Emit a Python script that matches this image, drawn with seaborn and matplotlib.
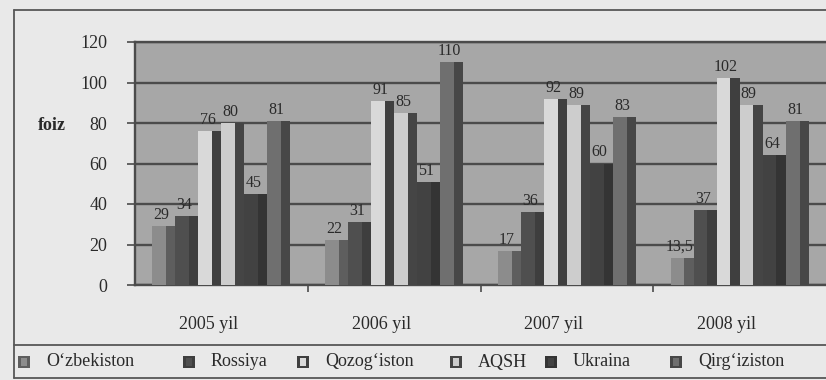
import matplotlib
matplotlib.use("Agg")
import matplotlib.pyplot as plt
import numpy as np
import pandas as pd
import seaborn as sns
from matplotlib.patches import Rectangle
from matplotlib.lines import Line2D
from matplotlib.transforms import ScaledTranslation

# ---- data -------------------------------------------------------------
years = ["2005 yil", "2006 yil", "2007 yil", "2008 yil"]
countries = ["O‘zbekiston", "Rossiya", "Qozog‘iston", "AQSH", "Ukraina", "Qirg‘iziston"]
uzbekiston = [29, 22, 17, 13.5]
rossiya = [34, 31, 36, 37]
qozogiston = [76, 91, 92, 102]
aqsh = [80, 85, 89, 89]
ukraina = [45, 51, 60, 64]
qirgiziston = [81, 110, 83, 81]
y_ticks = [0, 20, 40, 60, 80, 100, 120]
y_label = "foiz"

series = [uzbekiston, rossiya, qozogiston, aqsh, ukraina, qirgiziston]

# ---- style ------------------------------------------------------------
sns.set_theme(style="white")
plt.rcParams["font.family"] = ["Liberation Serif", "DejaVu Serif"]

front_colors = ["#8c8c8c", "#4f4f4f", "#d9d9d9", "#cdcdcd", "#424242", "#6f6f6f"]
side_colors = ["#5e5e5e", "#3e3e3e", "#3f3f3f", "#454545", "#343434", "#474747"]
fig_bg = "#e9e9e9"
plot_bg = "#a7a7a7"
grid_col = "#4b4b4b"
text_col = "#2a2a2a"

df = pd.DataFrame({
    "year": np.repeat(years, len(countries)),
    "country": countries * len(years),
    "value": [s[i] for i in range(len(years)) for s in series],
})

W, H = 826, 380
fig = plt.figure(figsize=(W / 100, H / 100), dpi=100, facecolor=fig_bg)
ax = fig.add_axes([135 / W, 1 - 285 / H, (W - 135) / W, (285 - 42) / H])
ax.set_facecolor(plot_bg)

sns.barplot(data=df, x="year", y="value", hue="country", order=years,
            hue_order=countries, palette=front_colors, saturation=1,
            width=0.8, legend=False, ax=ax, zorder=3, linewidth=0)

# darker right-hand side on every bar for a shaded column look
for container, side in zip(ax.containers, side_colors):
    for bar in container:
        x0, w, h = bar.get_x(), bar.get_width(), bar.get_height()
        ax.add_patch(Rectangle((x0 + w * 0.6, 0), w * 0.4, h,
                               facecolor=side, edgecolor="none", zorder=3.5))

# value labels
def fmt(v):
    return (f"{v:g}").replace(".", ",")

for container, vals in zip(ax.containers, series):
    for bar, v in zip(container, vals):
        cx = bar.get_x() + bar.get_width() * 0.4
        ax.text(cx, bar.get_height() + 1.5, fmt(v), ha="center", va="bottom",
                fontsize=11.5, color=text_col, zorder=5)

ax.set_xlim(-0.5, len(years) - 0.5)
ax.set_ylim(0, 120)
ax.set_yticks(y_ticks)
ax.set_yticklabels([str(t) for t in y_ticks], fontsize=13, color=text_col)
ax.yaxis.grid(True, color=grid_col, linewidth=1.7, zorder=1)
ax.set_axisbelow(True)
ax.tick_params(axis="y", length=6, width=1.2, color=grid_col, pad=14, left=True)

ax.set_xticks(range(len(years)))
ax.set_xticklabels(years, fontsize=13, color=text_col)
ax.tick_params(axis="x", length=0, pad=22)
ax.set_xticks([0.5, 1.5, 2.5], minor=True)
ax.tick_params(axis="x", which="minor", length=5, width=1.2, color=grid_col,
               bottom=True)
shift = ScaledTranslation(-13 / 100, 0, fig.dpi_scale_trans)
for lbl in ax.get_xticklabels():
    lbl.set_transform(lbl.get_transform() + shift)

ax.set_xlabel("")
ax.set_ylabel("")
for side in ["left", "bottom", "top"]:
    ax.spines[side].set_visible(True)
    ax.spines[side].set_color(grid_col)
    ax.spines[side].set_linewidth(1.7)
ax.spines["right"].set_visible(False)

fig.text(52 / W, 1 - 125 / H, y_label, ha="center", va="center",
         fontsize=13, fontweight="bold", color=text_col)

# outer frame and legend separator
frame_col = "#575757"
for (x0, y0, x1, y1) in [(14, 10, W, 10), (14, 10, 14, 378),
                         (14, 345, W, 345), (14, 378, W, 378)]:
    fig.add_artist(Line2D([x0 / W, x1 / W], [1 - y0 / H, 1 - y1 / H],
                          color=frame_col, linewidth=1.3))

# legend row
legend_x = [18, 183, 297, 450, 545, 670]
ly = 362
for x, name, fc in zip(legend_x, countries, front_colors):
    fig.add_artist(Rectangle((x / W, 1 - (ly + 6) / H), 12 / W, 12 / H,
                             facecolor=side_colors[countries.index(name)],
                             edgecolor="none", transform=fig.transFigure))
    fig.add_artist(Rectangle(((x + 3) / W, 1 - (ly + 4) / H), 6 / W, 8 / H,
                             facecolor=fc, edgecolor="none",
                             transform=fig.transFigure))
    fig.text((x + 28) / W, 1 - ly / H, name, ha="left", va="center",
             fontsize=13, color=text_col)

fig.savefig("out.png", dpi=100, facecolor=fig_bg)
